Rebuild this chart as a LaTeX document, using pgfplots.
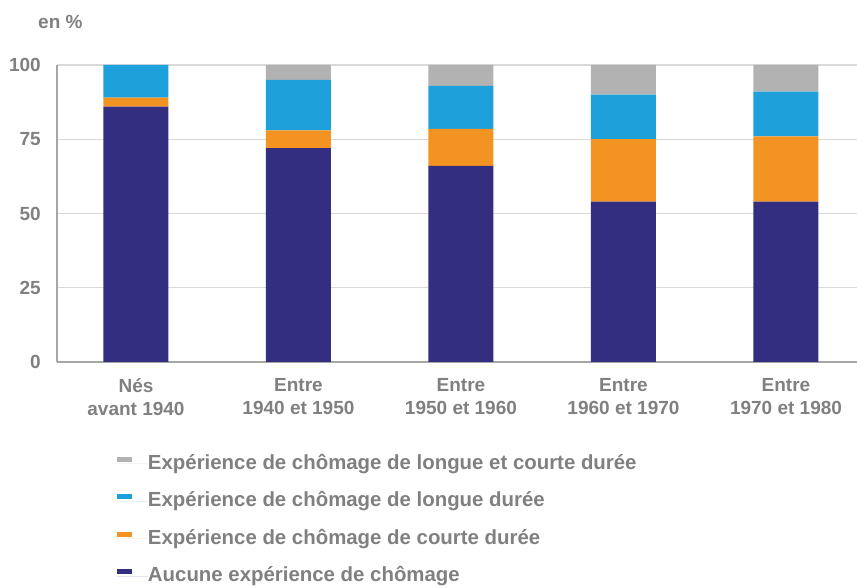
\documentclass[border=0pt]{standalone}
\usepackage{fontspec}
\setmainfont{Liberation Sans}
\usepackage{pgfplots}
\pgfplotsset{compat=1.18}
\definecolor{cnavy}{RGB}{51,46,128}
\definecolor{corange}{RGB}{243,147,34}
\definecolor{cblue}{RGB}{30,160,219}
\definecolor{cgray}{RGB}{178,178,178}
\definecolor{ctext}{RGB}{128,128,128}
\definecolor{cgrid}{RGB}{217,217,217}
\definecolor{caxis}{RGB}{166,166,166}
\begin{document}
\begin{tikzpicture}
\useasboundingbox (0,0) rectangle (857pt,588pt);
\node[anchor=west, inner sep=0pt, text=ctext, font=\bfseries\fontsize{19}{23}\selectfont] at (38pt,566pt) {en \%};
\begin{axis}[
  at={(57pt,226pt)}, anchor=south west,
  scale only axis, width=800pt, height=297pt,
  ybar stacked, bar width=65pt,
  xmin=-0.486, xmax=4.437,
  ymin=0, ymax=100,
  ytick={0,25,50,75,100},
  xtick={0,1,2,3,4},
  xticklabels={{Nés\\avant 1940},{Entre\\1940 et 1950},{Entre\\1950 et 1960},{Entre\\1960 et 1970},{Entre\\1970 et 1980}},
  axis x line*=bottom, axis y line*=left,
  axis line style={caxis, line width=1.5pt, -},
  major tick length=0pt,
  ymajorgrids, grid style={cgrid, line width=1.2pt},
  /pgf/number format/assume math mode=true,
  tick label style={text=ctext, font=\bfseries\fontsize{19}{23}\selectfont, inner sep=0pt},
  yticklabel style={anchor=east, xshift=-16pt},
  xticklabel style={anchor=north, yshift=-16pt, align=center},
  reverse legend,
  legend cell align=left,
  legend image code/.code={\fill[#1] (0pt,2pt) rectangle (15pt,7pt); \path (0pt,0pt) -- (31pt,0pt);},
  legend style={at={(0.075,-0.31)}, anchor=north west, draw=none, fill=none,
    inner sep=0pt, outer sep=0pt, row sep=18.5pt,
    font=\bfseries\fontsize{20.4}{23}\selectfont, text=ctext,
    nodes={inner sep=0pt, text height=15pt, text depth=4pt}},
]
\addplot[fill=cnavy, draw=none] coordinates {(0,86) (1,72) (2,66) (3,54) (4,54)};
\addplot[fill=corange, draw=none] coordinates {(0,3) (1,6) (2,12.5) (3,21) (4,22)};
\addplot[fill=cblue, draw=none] coordinates {(0,11) (1,17) (2,14.5) (3,15) (4,15)};
\addplot[fill=cgray, draw=none] coordinates {(0,0) (1,5) (2,7) (3,10) (4,9)};
\legend{Aucune expérience de chômage, Expérience de chômage de courte durée, Expérience de chômage de longue durée, Expérience de chômage de longue et courte durée}
\end{axis}
\end{tikzpicture}
\end{document}
